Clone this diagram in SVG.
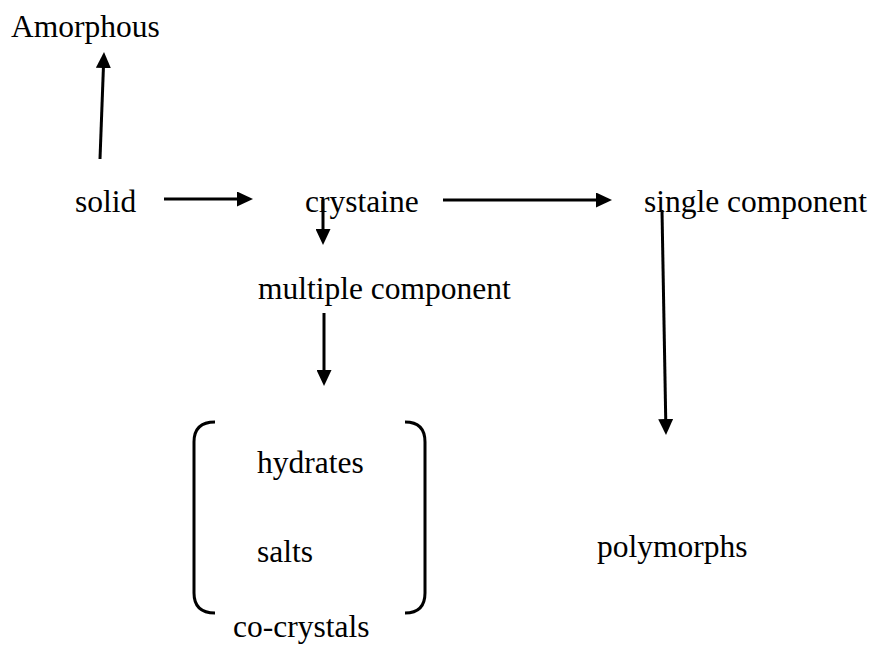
<svg xmlns="http://www.w3.org/2000/svg" width="872" height="653" viewBox="0 0 872 653">
<defs>
<marker id="ah" markerWidth="16" markerHeight="15" refX="8" refY="7.5" orient="auto" markerUnits="userSpaceOnUse" viewBox="0 0 16 15">
<path d="M0,0 L16,7.5 L0,15 z" fill="#000"/>
</marker>
<style>
text{font-family:"Liberation Serif","Times New Roman",serif;font-size:31.5px;fill:#000}
.c{stroke:#000;stroke-width:3;fill:none}
.a{stroke:#000;stroke-width:3;fill:none;marker-end:url(#ah)}
</style>
</defs>
<rect width="872" height="653" fill="#fff"/>
<g id="amorphous"><text x="11" y="37">Amorphous</text></g>
<g id="solid"><text x="75" y="212">solid</text></g>
<g id="crystaine"><text x="305" y="212">crystaine</text></g>
<g id="single"><text x="644" y="212">single component</text></g>
<g id="multiple"><text x="258" y="299">multiple component</text></g>
<g id="group">
<path class="c" d="M215,422 Q194,422 194,442 L194,593 Q194,613 215,613"/>
<path class="c" d="M405,422 Q425,422 425,442 L425,593 Q425,613 405,613"/>
<text x="257" y="473">hydrates</text>
<text x="257" y="562">salts</text>
</g>
<g id="cocrystals"><text x="233" y="637">co-crystals</text></g>
<g id="polymorphs"><text x="597" y="557">polymorphs</text></g>
<g id="connectors">
<path class="a" d="M100,159 L103.7,60"/>
<path class="a" d="M164,199 L245,199"/>
<path class="a" d="M323,200 L323,237"/>
<path class="a" d="M443,200 L604,200"/>
<path class="a" d="M662,210 L665.86,427"/>
<path class="a" d="M324,313 L324,378"/>
</g>
</svg>
